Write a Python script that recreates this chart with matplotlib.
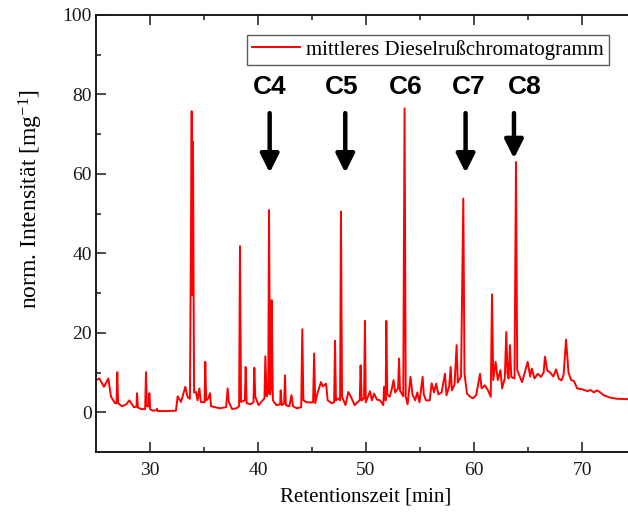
import matplotlib
matplotlib.use("Agg")
import matplotlib.pyplot as plt

plt.rcParams['font.family'] = ['Liberation Serif', 'DejaVu Serif']
plt.rcParams['mathtext.fontset'] = 'custom'
plt.rcParams['mathtext.rm'] = 'Liberation Serif'
plt.rcParams['mathtext.it'] = 'Liberation Serif:italic'

# Chromatogram trace (retention time [min], intensity)
time = [
    25.0, 25.31, 25.74, 26.14, 26.39, 26.76, 26.9, 26.97, 27.05, 27.4, 27.8, 28.09, 28.5, 28.75,
    28.8, 28.88, 29.2, 29.55, 29.63, 29.72, 29.9, 29.94, 30.02, 30.3, 30.6, 30.65, 30.72, 31.5,
    32.4, 32.56, 32.87, 33.27, 33.49, 33.7, 33.86, 33.92, 33.98, 34.08, 34.26, 34.4, 34.57, 34.7,
    35.05, 35.12, 35.2, 35.4, 35.56, 35.65, 36.0, 36.48, 37.05, 37.19, 37.3, 37.6, 38.0, 38.25,
    38.33, 38.43, 38.78, 38.86, 38.95, 39.3, 39.58, 39.66, 39.75, 40.05, 40.3, 40.6, 40.68, 40.8,
    40.95, 41.02, 41.12, 41.2, 41.27, 41.38, 41.7, 42.05, 42.1, 42.2, 42.42, 42.5, 42.58, 42.9,
    43.1, 43.25, 43.6, 44.0, 44.1, 44.2, 44.5, 45.1, 45.2, 45.3, 45.5, 45.83, 46.0, 46.3,
    46.45, 46.8, 47.05, 47.13, 47.22, 47.45, 47.6, 47.68, 47.78, 48.1, 48.36, 48.6, 48.95, 49.2,
    49.42, 49.5, 49.6, 49.82, 49.9, 49.98, 50.37, 50.55, 50.75, 51.0, 51.3, 51.6, 51.67, 51.82,
    51.88, 51.97, 52.2, 52.4, 52.55, 52.7, 52.97, 53.06, 53.15, 53.45, 53.57, 53.68, 53.85, 54.12,
    54.3, 54.55, 54.75, 54.95, 55.24, 55.35, 55.55, 55.9, 56.08, 56.3, 56.5, 56.7, 57.0, 57.31,
    57.45, 57.7, 57.84, 57.95, 58.2, 58.39, 58.5, 58.8, 59.01, 59.12, 59.35, 59.65, 59.9, 60.2,
    60.56, 60.7, 61.0, 61.3, 61.55, 61.67, 61.78, 62.0, 62.2, 62.45, 62.6, 62.85, 62.99, 63.1,
    63.2, 63.33, 63.45, 63.75, 63.89, 64.0, 64.25, 64.45, 64.7, 64.97, 65.2, 65.35, 65.6, 65.9,
    66.2, 66.45, 66.57, 66.78, 67.05, 67.35, 67.6, 67.85, 68.1, 68.3, 68.52, 68.75, 69.0, 69.25,
    69.55, 70.0, 70.5, 70.8, 71.1, 71.4, 71.7, 72.0, 72.6, 73.2, 74.3, 75.0,
]
intensity = [
    8.1, 8.5, 6.4, 8.5, 3.9, 2.3, 2.3, 10.1, 2.3, 1.5, 2.0, 3.0, 1.3, 1.4,
    4.8, 1.2, 0.8, 0.8, 10.1, 1.5, 1.5, 4.8, 0.7, 0.4, 0.5, 0.9, 0.3, 0.3,
    0.4, 4.0, 2.6, 6.4, 3.8, 3.4, 75.8, 29.5, 68.1, 5.0, 5.1, 3.0, 6.0, 2.6,
    2.5, 12.7, 3.0, 3.5, 4.8, 1.5, 1.3, 1.0, 1.3, 6.0, 2.6, 0.8, 1.0, 1.5,
    41.8, 2.6, 3.0, 11.4, 2.3, 2.0, 2.5, 11.2, 3.9, 1.8, 2.6, 3.5, 14.1, 4.0,
    5.0, 50.9, 4.5, 6.0, 28.2, 3.0, 1.8, 2.0, 5.5, 1.8, 2.2, 9.3, 1.8, 1.5,
    4.3, 1.5, 1.0, 1.3, 20.9, 3.0, 2.5, 2.5, 14.8, 2.3, 4.7, 7.6, 6.5, 7.2,
    3.0, 2.3, 2.5, 18.0, 3.0, 3.5, 3.0, 50.5, 3.9, 1.8, 5.1, 3.9, 1.8, 2.5,
    3.0, 11.8, 3.0, 3.5, 23.0, 2.5, 5.3, 3.0, 4.7, 3.2, 3.0, 1.8, 6.4, 3.0,
    23.0, 4.5, 3.9, 6.0, 8.1, 5.0, 6.0, 13.5, 5.5, 4.0, 76.5, 3.9, 2.0, 8.9,
    4.5, 3.0, 5.0, 2.5, 8.9, 4.5, 3.0, 3.0, 7.3, 5.0, 7.2, 4.5, 5.0, 9.7,
    4.3, 6.5, 11.4, 5.5, 7.0, 16.9, 7.5, 9.0, 53.8, 9.7, 4.7, 3.9, 3.5, 4.3,
    9.7, 6.0, 6.8, 5.5, 3.9, 29.7, 8.1, 12.7, 8.1, 10.6, 6.0, 8.5, 20.2, 9.7,
    8.5, 16.9, 8.9, 8.5, 63.0, 10.6, 8.9, 7.6, 10.0, 12.7, 9.0, 11.0, 8.5, 9.7,
    8.9, 10.0, 14.0, 10.5, 10.0, 9.0, 10.8, 8.5, 8.0, 9.5, 18.3, 10.0, 8.1, 7.9,
    6.0, 5.8, 5.3, 5.6, 5.0, 5.5, 5.0, 4.3, 3.7, 3.4, 3.3, 3.2,
]

# Alkane markers
marker_labels = ['C4', 'C5', 'C6', 'C7', 'C8']
label_x = [41.1, 47.78, 53.66, 59.54, 64.72]
label_y = 81.9
arrow_x = [41.08, 48.08, 59.22, 63.7]
arrow_top = [75.3, 75.3, 75.3, 75.3]
arrow_tip = [60.3, 60.3, 60.3, 63.9]

legend_label = 'mittleres Dieselrußchromatogramm'
xlabel = 'Retentionszeit [min]'
ylabel = 'norm. Intensität [mg$^{-1}$]'
x_major = [30, 40, 50, 60, 70]
x_minor = [35, 45, 55, 65, 75]
y_major = [0, 20, 40, 60, 80, 100]
y_minor = [10, 30, 50, 70, 90]

fig = plt.figure(figsize=(6.28, 5.13), dpi=100)
ax = fig.add_axes([96 / 628, 61 / 513, 540 / 628, 437 / 513])

ax.plot(time, intensity, color='#ff0000', lw=1.4, label=legend_label)

ax.set_xlim(25, 75)
ax.set_ylim(-10, 100)
ax.set_xticks(x_major)
ax.set_xticks(x_minor, minor=True)
ax.set_yticks(y_major)
ax.set_yticks(y_minor, minor=True)
ax.tick_params(which='both', direction='in', top=True, right=False, width=1.1,
               labelsize=14, colors='#1a1a1a')
ax.tick_params(which='major', length=7)
ax.tick_params(which='minor', length=3.6)
ax.tick_params(axis='x', pad=7.5)
ax.tick_params(axis='y', pad=3)
for side in ['left', 'bottom', 'top']:
    ax.spines[side].set_linewidth(1.4)
    ax.spines[side].set_color('#1a1a1a')
ax.spines['right'].set_visible(False)

ax.set_xlabel(xlabel, fontsize=15, labelpad=6)
ax.set_ylabel(ylabel, fontsize=17)
ax.yaxis.set_label_coords(-0.095, 0.579)

for lab, lx in zip(marker_labels, label_x):
    ax.text(lx, label_y, lab, ha='center', va='center', fontsize=19,
            fontweight='bold', family=['Liberation Sans', 'DejaVu Sans'], color='black')

for ax_x, top, tip in zip(arrow_x, arrow_top, arrow_tip):
    ax.annotate('', xy=(ax_x, tip), xytext=(ax_x, top),
                arrowprops=dict(arrowstyle='-|>', lw=3.2, color='black',
                                mutation_scale=28, shrinkA=0, shrinkB=0))

leg = ax.legend(loc='upper right', bbox_to_anchor=(609 / 628, 1 - 34.5 / 513),
                bbox_transform=fig.transFigure, borderaxespad=0, fontsize=15,
                frameon=True, fancybox=False, handlelength=2.3, borderpad=0.25,
                handletextpad=0.3)
leg.get_frame().set_edgecolor('#333333')
leg.get_frame().set_linewidth(1.0)

fig.savefig('out.png', dpi=100)
